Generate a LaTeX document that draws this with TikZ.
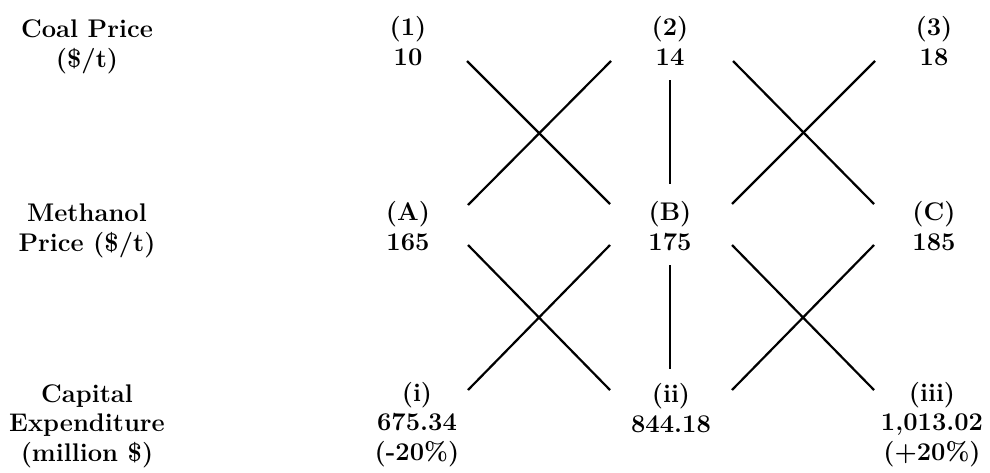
\documentclass[tikz,border=0pt]{standalone}
\begin{document}
\begin{tikzpicture}[x=1pt,y=-1pt,
  lbl/.style={anchor=base,align=center,inner sep=0pt,font=\fontsize{25.5}{29.5}\selectfont\bfseries},
  link/.style={line width=2.2pt}]
\useasboundingbox (0,0) rectangle (990,472);
% row labels (anchored at the baseline of the last line)
\node[lbl] (coal) at (87,67) {Coal Price\\(\$/t)};
\node[lbl] (meth) at (87,251) {Methanol\\Price (\$/t)};
\node[lbl] (capex) at (87,461) {Capital\\Expenditure\\(million \$)};
% coal prices
\node[lbl] (c1) at (408,65) {(1)\\10};
\node[lbl] (c2) at (670,65) {(2)\\14};
\node[lbl] (c3) at (934,65) {(3)\\18};
% methanol prices
\node[lbl] (mA) at (408,250) {(A)\\165};
\node[lbl] (mB) at (670,250) {(B)\\175};
\node[lbl] (mC) at (934,250) {(C)\\185};
% capital expenditure
\node[lbl] (k1) at (417,460) {(i)\\675.34\\(-20\%)};
\node[lbl] (k2) at (671,432) {(ii)\\844.18};
\node[lbl] (k3) at (932,460) {(iii)\\1,013.02\\(+20\%)};
% connector end points
\coordinate (c1r) at (467,61);
\coordinate (c2l) at (611,61);
\coordinate (c2d) at (670,80);
\coordinate (c2r) at (733,61);
\coordinate (c3l) at (875,61);
\coordinate (mAu) at (468,205);
\coordinate (mBul) at (610,204);
\coordinate (mBu) at (670,184);
\coordinate (mBur) at (732,204);
\coordinate (mCu) at (874,204);
\coordinate (mAd) at (468,245);
\coordinate (mBdl) at (610,245);
\coordinate (mBd) at (670,265);
\coordinate (mBdr) at (732,245);
\coordinate (mCd) at (874,245);
\coordinate (k1u) at (468,390);
\coordinate (k2ul) at (610,390);
\coordinate (k2u) at (670,369);
\coordinate (k2ur) at (732,390);
\coordinate (k3u) at (874,390);
% upper connectors
\draw[link] (c1r) -- (mBul);
\draw[link] (c2l) -- (mAu);
\draw[link] (c2d) -- (mBu);
\draw[link] (c2r) -- (mCu);
\draw[link] (c3l) -- (mBur);
% lower connectors
\draw[link] (mAd) -- (k2ul);
\draw[link] (mBdl) -- (k1u);
\draw[link] (mBd) -- (k2u);
\draw[link] (mBdr) -- (k3u);
\draw[link] (mCd) -- (k2ur);
\end{tikzpicture}
\end{document}
